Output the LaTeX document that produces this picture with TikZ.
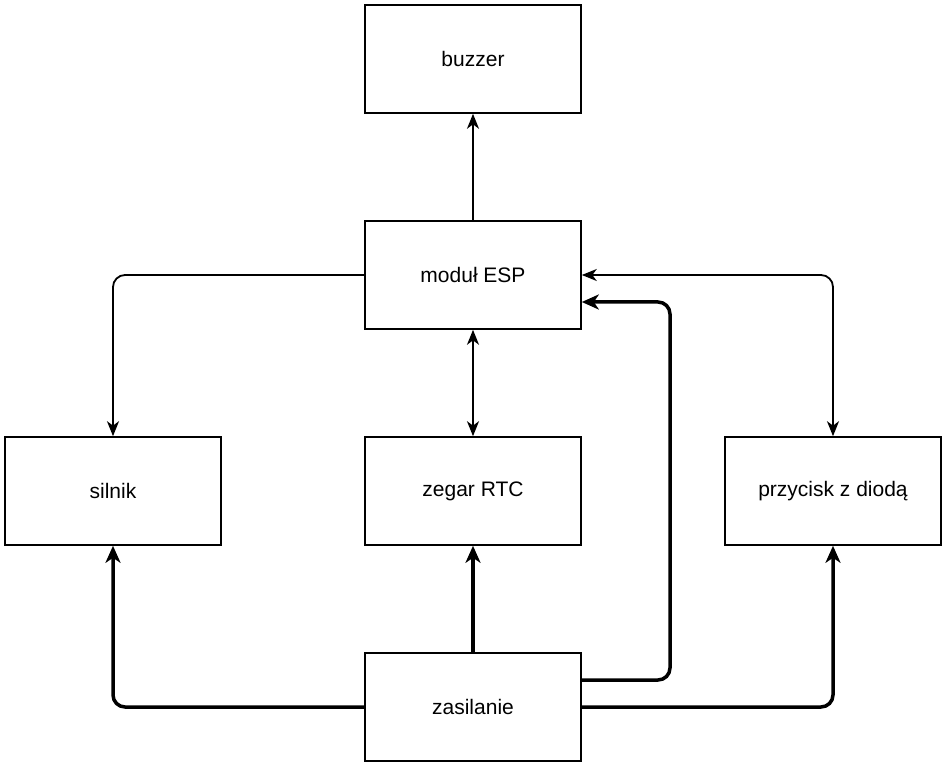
\documentclass[tikz,border=0pt]{standalone}
\usepackage{fontspec}
\setmainfont{Liberation Sans}
\usetikzlibrary{arrows.meta}
\begin{document}
\begin{tikzpicture}[x=1pt,y=-1pt,
  box/.style={draw,line width=1.6pt,minimum width=216pt,minimum height=108pt,inner sep=0pt,font=\fontsize{21}{24}\selectfont},
  thin/.style={line width=1.8pt,rounded corners=12pt,-{Stealth[length=15pt,width=12pt,inset=4.5pt]}},
  thinboth/.style={line width=1.8pt,rounded corners=12pt,{Stealth[length=15pt,width=12pt,inset=4.5pt]}-{Stealth[length=15pt,width=12pt,inset=4.5pt]}},
  thick/.style={line width=3.5pt,rounded corners=12pt,-{Stealth[length=17pt,width=15pt,inset=5pt]}}]
\useasboundingbox (0,0) rectangle (945,767);
\node[box] (buz) at (473,59) {buzzer};
\node[box] (esp) at (473,275) {moduł ESP};
\node[box] (sil) at (113,491) {silnik};
\node[box] (rtc) at (473,491) {zegar RTC};
\node[box] (prz) at (833,491) {przycisk z diodą};
\node[box] (zas) at (473,707) {zasilanie};
\draw[thin] (esp.north) -- (buz.south);
\draw[thin] (esp.west) -| (sil.north);
\draw[thinboth] (esp.east) -| (prz.north);
\draw[thinboth] (esp.south) -- (rtc.north);
\draw[thick] (zas.west) -| (sil.south);
\draw[thick] (zas.north) -- (rtc.south);
\draw[thick] (zas.east) -| (prz.south);
\draw[thick] ([yshift=27pt]zas.east) -- (670,680) -- (670,302) -- ([yshift=-27pt]esp.east);
\end{tikzpicture}
\end{document}
